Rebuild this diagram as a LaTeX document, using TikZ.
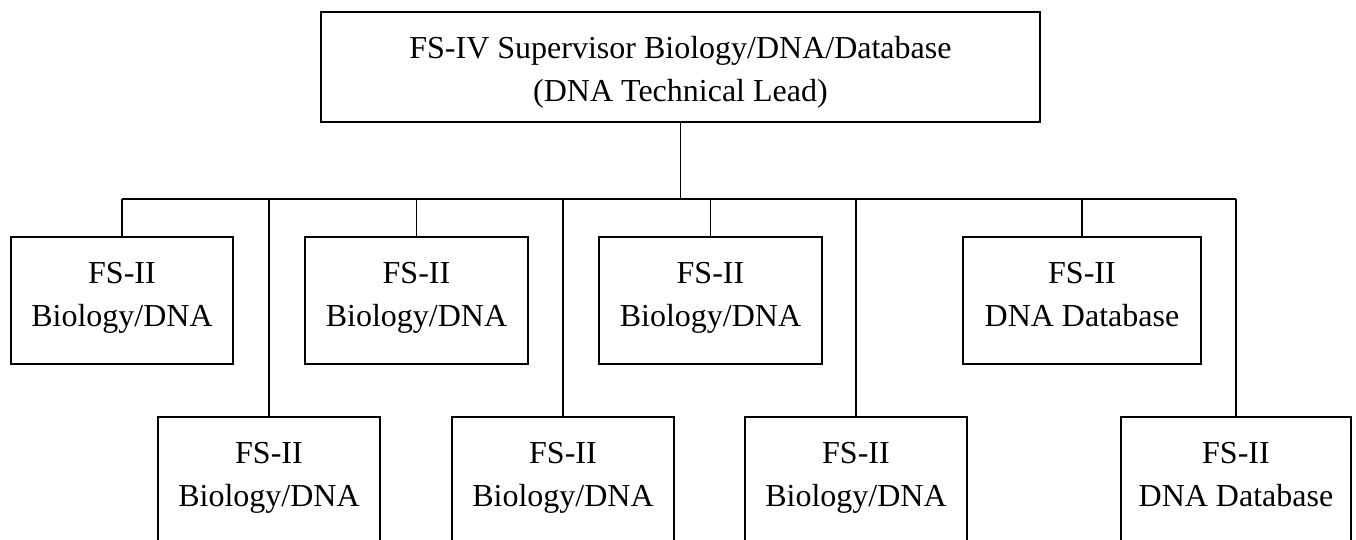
\documentclass[tikz,border=0pt]{standalone}
\usepackage{fontspec}
\setmainfont{Liberation Serif}
\usetikzlibrary{calc}
\begin{document}
\begin{tikzpicture}[x=1pt,y=-1pt,
  box/.style={draw=black,line width=1.9pt,anchor=north west,inner sep=0pt},
  lbl/.style={anchor=base,inner sep=0pt,font=\fontsize{32}{38}\selectfont},
  wire/.style={draw=black,line width=1.6pt}]
\useasboundingbox (0,0) rectangle (1356,539);
\clip (0,0) rectangle (1356,539);
% boxes
\node[box,minimum width=719pt,minimum height=110pt] (top) at (320,11) {};
\node[box,minimum width=222pt,minimum height=127pt] (b1) at (10,236) {};
\node[box,minimum width=223pt,minimum height=127pt] (b2) at (304,236) {};
\node[box,minimum width=223pt,minimum height=127pt] (b3) at (598,236) {};
\node[box,minimum width=238pt,minimum height=127pt] (b4) at (962,236) {};
\node[box,minimum width=222pt,minimum height=150pt] (b5) at (157,416) {};
\node[box,minimum width=222pt,minimum height=150pt] (b6) at (451,416) {};
\node[box,minimum width=222pt,minimum height=150pt] (b7) at (744,416) {};
\node[box,minimum width=230pt,minimum height=150pt] (b8) at (1120,416) {};
% labels
\node[lbl] (t1) at ($(top.north)+(0,47)$) {FS-IV Supervisor Biology/DNA/Database};
\node[lbl] (t2) at ($(top.north)+(0,90)$) {(DNA Technical Lead)};
\foreach \b/\s in {b1/Biology\slash DNA,b2/Biology\slash DNA,b3/Biology\slash DNA,b4/DNA Database,b5/Biology\slash DNA,b6/Biology\slash DNA,b7/Biology\slash DNA,b8/DNA Database}{
  \node[lbl] (\b l1) at ($(\b.north)+(0,47)$) {FS-II};
  \node[lbl] (\b l2) at ($(\b.north)+(0,90)$) {\s};
}
% connectors
\coordinate (bus) at (top.south |- 0,199);
\draw[wire] (top.south) -- (bus);
\draw[wire] (b1.north |- bus) -- (b8.north |- bus);
\foreach \b in {b1,b2,b3,b4,b5,b6,b7,b8}{
  \draw[wire] (\b.north |- bus) -- (\b.north);
}
\end{tikzpicture}
\end{document}
